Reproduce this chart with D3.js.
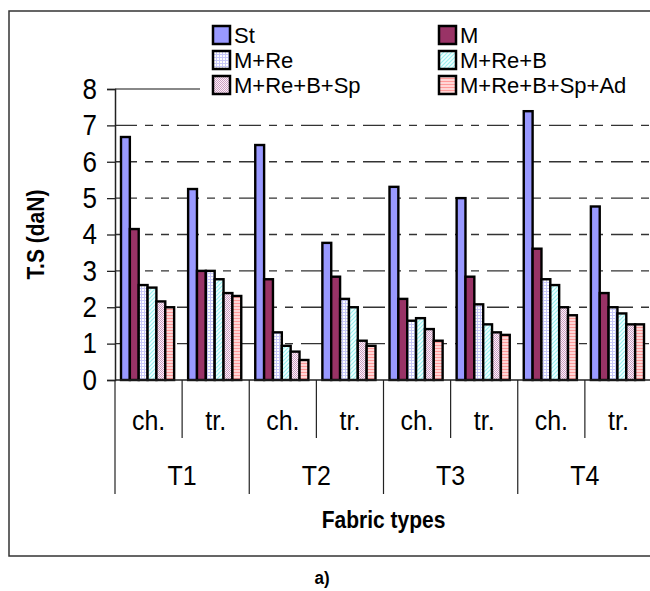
<!DOCTYPE html>
<html>
<head>
<meta charset="utf-8">
<script src="https://cdn.jsdelivr.net/npm/d3@7"></script>
<style>
  body { margin: 0; background: #fff; }
  text { font-family: "Liberation Sans", Arial, sans-serif; fill: #000; }
</style>
</head>
<body>
<script>
var groups = ['T1', 'T2', 'T3', 'T4'];
var subs = ['ch.', 'tr.'];
var seriesNames = ['St', 'M', 'M+Re', 'M+Re+B', 'M+Re+B+Sp', 'M+Re+B+Sp+Ad'];
var yTicks = [0, 1, 2, 3, 4, 5, 6, 7, 8];

// one value per (group, sub): T1 ch, T1 tr, T2 ch, ...
var st       = [6.68, 5.25, 6.46, 3.77, 5.31, 5.00, 7.39, 4.77];
var m        = [4.15, 3.00, 2.77, 2.84, 2.23, 2.84, 3.61, 2.39];
var mRe      = [2.61, 3.00, 1.31, 2.23, 1.63, 2.08, 2.77, 2.00];
var mReB     = [2.54, 2.77, 0.94, 2.00, 1.70, 1.53, 2.61, 1.83];
var mReBSp   = [2.16, 2.39, 0.78, 1.08, 1.40, 1.31, 2.00, 1.53];
var mReBSpAd = [2.00, 2.31, 0.55, 0.94, 1.08, 1.24, 1.78, 1.53];

var seriesVals = [st, m, mRe, mReB, mReBSp, mReBSpAd];

var W = 650, H = 591;
var pLeft = 115, pRight = 652, pTop = 89, pBottom = 380;
var stretch = 'scale(1,1.12)';

var svg = d3.select('body').append('svg')
    .attr('width', W)
    .attr('height', H);

var defs = svg.append('defs');

// fills
var p = defs.append('pattern').attr('id', 'pRe').attr('width', 3).attr('height', 3).attr('patternUnits', 'userSpaceOnUse');
p.append('rect').attr('width', 3).attr('height', 3).attr('fill', '#fff');
p.append('rect').attr('width', 3).attr('height', 1).attr('fill', '#c8c8f8');
p.append('rect').attr('width', 1).attr('height', 3).attr('fill', '#c8c8f8');

p = defs.append('pattern').attr('id', 'pB').attr('width', 4).attr('height', 4).attr('patternUnits', 'userSpaceOnUse');
p.append('rect').attr('width', 4).attr('height', 4).attr('fill', '#f2ffff');
p.append('path').attr('d', 'M0,4 L4,0 M-1,1 L1,-1 M3,5 L5,3').attr('stroke', '#99f0f0').attr('stroke-width', 1.2);

p = defs.append('pattern').attr('id', 'pSp').attr('width', 2).attr('height', 2).attr('patternUnits', 'userSpaceOnUse');
p.append('rect').attr('width', 2).attr('height', 2).attr('fill', '#fff0fa');
p.append('rect').attr('width', 1).attr('height', 1).attr('fill', '#c9a0c0');
p.append('rect').attr('x', 1).attr('y', 1).attr('width', 1).attr('height', 1).attr('fill', '#c9a0c0');

p = defs.append('pattern').attr('id', 'pAd').attr('width', 3).attr('height', 3).attr('patternUnits', 'userSpaceOnUse');
p.append('rect').attr('width', 3).attr('height', 3).attr('fill', '#ffd6d6');
p.append('rect').attr('width', 3).attr('height', 1).attr('fill', '#ff9a9a');

var fills = ['#9999ff', '#993366', 'url(#pRe)', 'url(#pB)', 'url(#pSp)', 'url(#pAd)'];

function txt(x, y, s, size, weight, anchor, tr, sc) {
    return svg.append('text')
        .attr('transform', 'translate(' + x + ',' + y + ')' + (tr || '') + ' ' + (sc === undefined ? stretch : sc))
        .attr('text-anchor', anchor || 'middle')
        .attr('dominant-baseline', 'central')
        .style('font-size', size + 'px')
        .style('font-weight', weight || 'normal')
        .text(s);
}

// outer frame
svg.append('rect')
    .attr('x', 9).attr('y', 11)
    .attr('width', 660).attr('height', 545)
    .attr('fill', 'none').attr('stroke', '#333').attr('stroke-width', 1.5);

var cats = d3.range(8);
var x0 = d3.scaleBand().domain(cats).range([pLeft, pRight]);
var bw = x0.bandwidth();
var x1 = d3.scaleBand().domain(d3.range(seriesNames.length)).range([6, bw - 8]);
var y = d3.scaleLinear().domain([0, 8]).range([pBottom, pTop]);

// dashed gridlines
svg.append('g')
    .selectAll('line')
    .data(yTicks.filter(function(d) { return d > 0 && d < 8; }))
    .enter().append('line')
    .attr('x1', pLeft).attr('x2', pRight)
    .attr('y1', function(d) { return y(d); })
    .attr('y2', function(d) { return y(d); })
    .attr('stroke', '#333')
    .attr('stroke-width', 1.3)
    .attr('stroke-dasharray', '22,8,8,8,8,8');

// plot area top border (gray)
svg.append('line')
    .attr('x1', pLeft).attr('x2', pRight)
    .attr('y1', y(8)).attr('y2', y(8))
    .attr('stroke', '#888').attr('stroke-width', 2);

// bars
var bars = svg.append('g');
seriesVals.forEach(function(vals, si) {
    bars.selectAll('.s' + si)
        .data(vals)
        .enter().append('rect')
        .attr('class', 's' + si)
        .attr('x', function(d, i) { return x0(i) + x1(si); })
        .attr('width', x1.bandwidth())
        .attr('y', function(d) { return y(d); })
        .attr('height', function(d) { return y(0) - y(d); })
        .attr('fill', fills[si])
        .attr('stroke', '#000')
        .attr('stroke-width', 2.4);
});

// y axis
var yAxis = svg.append('g')
    .attr('transform', 'translate(' + pLeft + ',0)')
    .call(d3.axisLeft(y).tickValues(yTicks).tickSize(8).tickPadding(10).tickFormat(d3.format('d')));
yAxis.select('.domain').attr('stroke', '#222').attr('stroke-width', 1.5);
yAxis.selectAll('.tick line').attr('stroke', '#222').attr('stroke-width', 1.3);
yAxis.selectAll('.tick text')
    .attr('transform', stretch)
    .style('font-size', '26px')
    .style('font-family', '"Liberation Sans", Arial, sans-serif');

// x axis line and category separators
svg.append('line')
    .attr('x1', pLeft).attr('x2', pRight)
    .attr('y1', pBottom).attr('y2', pBottom)
    .attr('stroke', '#222').attr('stroke-width', 1.5);

svg.append('g').selectAll('line')
    .data(d3.range(9))
    .enter().append('line')
    .attr('x1', function(d) { return pLeft + d * bw; })
    .attr('x2', function(d) { return pLeft + d * bw; })
    .attr('y1', pBottom)
    .attr('y2', function(d) { return d % 2 === 0 ? 494 : 438; })
    .attr('stroke', '#222').attr('stroke-width', 1.2);

cats.forEach(function(c) {
    txt(x0(c) + bw / 2, 421, subs[c % 2], 25);
});
groups.forEach(function(g, i) {
    txt(pLeft + (i * 2 + 1) * bw, 476, g, 25);
});

// axis titles
txt((pLeft + pRight) / 2, 520, 'Fabric types', 21, 'bold');
txt(36, (pTop + pBottom) / 2, 'T.S (daN)', 21, 'bold', 'middle', ' rotate(-90)');
txt(322, 578, 'a)', 17, 'bold');

// legend
var lg = svg.append('g');
lg.append('rect')
    .attr('x', 200).attr('y', 21)
    .attr('width', 460).attr('height', 76)
    .attr('fill', '#fff');
var legX = [213, 439];
var legY = [35, 60, 85];
seriesNames.forEach(function(n, i) {
    var lx = legX[i % 2], ly = legY[Math.floor(i / 2)];
    lg.append('rect')
        .attr('x', lx).attr('y', ly - 9)
        .attr('width', 17).attr('height', 18)
        .attr('fill', fills[i])
        .attr('stroke', '#000').attr('stroke-width', 2.5);
    txt(lx + 21, ly, n, 22, 'normal', 'start', '', '');
});
</script>
</body>
</html>
